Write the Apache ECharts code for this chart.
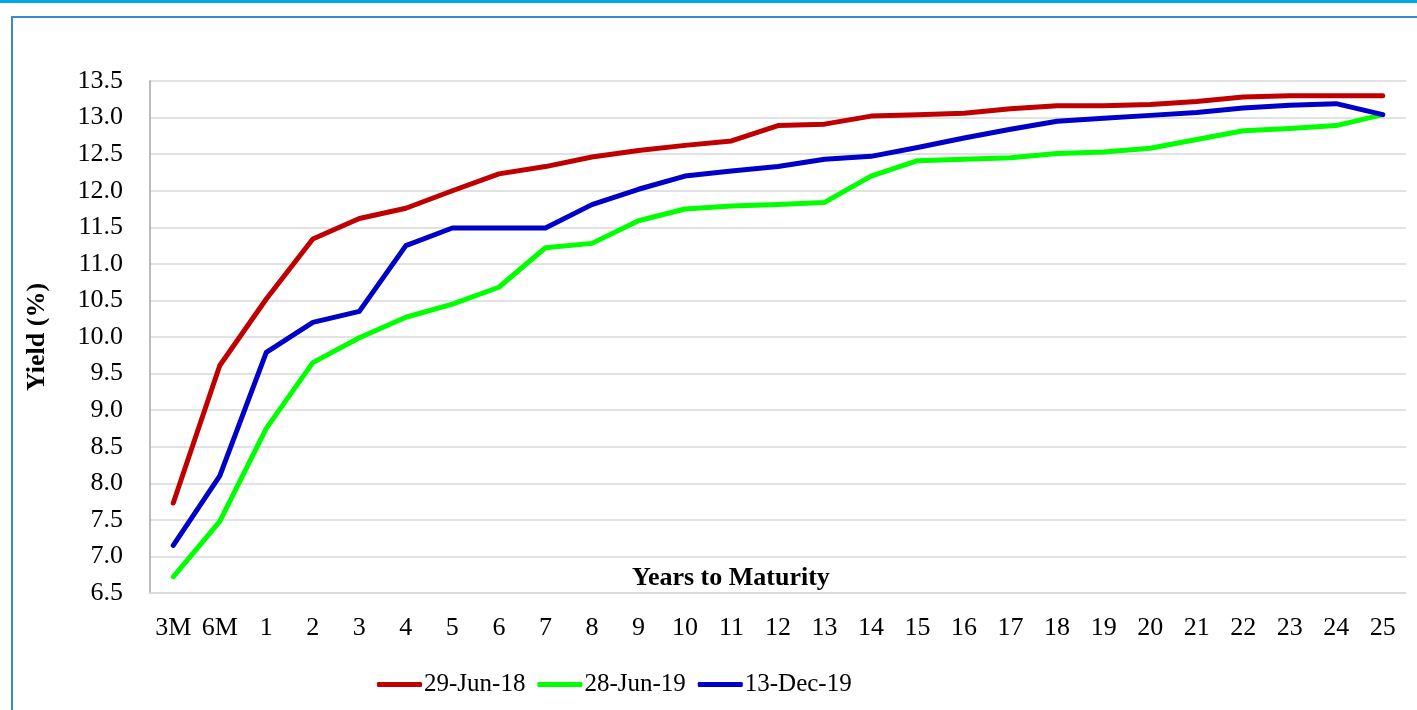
<!DOCTYPE html>
<html>
<head>
<meta charset="utf-8">
<script src="https://cdn.jsdelivr.net/npm/echarts@6/dist/echarts.min.js"></script>
<style>
  html, body { margin: 0; padding: 0; background: #fff; }
  #topline { position: absolute; left: 0; top: 0; width: 1417px; height: 3px; background: #00a8e6; }
  #frame { position: absolute; left: 11px; top: 16px; width: 1420px; height: 720px; border: 2px solid #3a8ad0; box-sizing: border-box; }
  #chart { position: absolute; left: 0; top: 0; width: 1417px; height: 710px; }
</style>
</head>
<body>
<div id="topline"></div>
<div id="frame"></div>
<div id="chart"></div>
<script>
// tenors on the x axis
const tenors = ['3M', '6M', '1', '2', '3', '4', '5', '6', '7', '8', '9', '10', '11', '12', '13',
  '14', '15', '16', '17', '18', '19', '20', '21', '22', '23', '24', '25']

// yields (%)
const jun18 = [7.73, 9.61, 10.52, 11.34, 11.62, 11.76, 12.0, 12.23, 12.33, 12.46, 12.55, 12.62, 12.68,
  12.89, 12.91, 13.02, 13.04, 13.06, 13.12, 13.16, 13.16, 13.18, 13.22, 13.28, 13.30, 13.30, 13.30]
const jun19 = [6.72, 7.48, 8.75, 9.65, 9.99, 10.27, 10.45, 10.68, 11.22, 11.28, 11.59, 11.75, 11.79,
  11.81, 11.84, 12.20, 12.41, 12.43, 12.45, 12.51, 12.53, 12.58, 12.70, 12.82, 12.85, 12.89, 13.04]
const dec19 = [7.15, 8.10, 9.79, 10.20, 10.35, 11.25, 11.49, 11.49, 11.49, 11.81, 12.02, 12.20, 12.27,
  12.33, 12.43, 12.47, 12.59, 12.72, 12.84, 12.95, 12.99, 13.03, 13.07, 13.13, 13.17, 13.19, 13.04]

const seriesNames = ['29-Jun-18', '28-Jun-19', '13-Dec-19']
const colors = ['#c00000', '#00ff00', '#0000c8']

const font = 'Liberation Serif'

const chart = echarts.init(document.getElementById('chart'))

const makeLine = (name, data, color) => ({
  name,
  type: 'line',
  data,
  symbol: 'none',
  smooth: false,
  animation: false,
  lineStyle: { color, width: 5, cap: 'round', join: 'round' },
  itemStyle: { color }
})

chart.setOption({
  backgroundColor: 'transparent',
  textStyle: { fontFamily: font },
  grid: { left: 150, top: 81, right: 11, bottom: 117 },
  xAxis: {
    type: 'category',
    data: tenors,
    boundaryGap: true,
    axisLine: { show: true, lineStyle: { color: '#d9d9d9', width: 1.5 } },
    axisTick: { show: false },
    axisLabel: { color: '#000', fontSize: 26, fontFamily: font, margin: 22, interval: 0 }
  },
  yAxis: {
    type: 'value',
    min: 6.5,
    max: 13.5,
    interval: 0.5,
    name: 'Yield (%)',
    nameLocation: 'middle',
    nameGap: 100,
    nameRotate: 90,
    nameTextStyle: { color: '#000', fontSize: 26, fontWeight: 'bold', fontFamily: font },
    axisLine: { show: true, lineStyle: { color: '#a6a6a6', width: 1.5 } },
    axisTick: { show: false },
    splitLine: { show: true, lineStyle: { color: '#d9d9d9', width: 1.5 } },
    axisLabel: {
      color: '#000', fontSize: 26, fontFamily: font, margin: 27,
      formatter: v => v.toFixed(1)
    }
  },
  legend: {
    left: 372,
    top: 667,
    itemWidth: 45,
    itemHeight: 5,
    itemGap: 12,
    icon: 'roundRect',
    textStyle: { color: '#000', fontSize: 25, fontFamily: font, padding: [0, 0, 0, -3] },
    data: seriesNames
  },
  graphic: [{
    type: 'text',
    left: 632,
    top: 565,
    style: { text: 'Years to Maturity', fontSize: 26, fontWeight: 'bold', fontFamily: font, fill: '#000' }
  }],
  series: [
    makeLine(seriesNames[0], jun18, colors[0]),
    makeLine(seriesNames[1], jun19, colors[1]),
    makeLine(seriesNames[2], dec19, colors[2])
  ]
})
</script>
</body>
</html>
